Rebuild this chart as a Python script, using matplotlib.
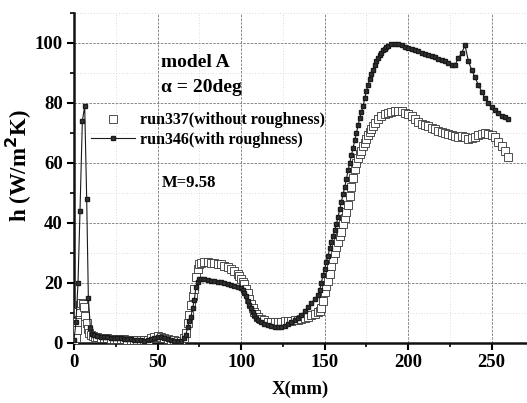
import matplotlib
matplotlib.use("Agg")
import matplotlib.pyplot as plt
from matplotlib.ticker import MultipleLocator

# run346 (with roughness) - filled squares + line
x346 = [0, 1.2, 2.4, 3.6, 5.0, 6.4, 7.6, 8.6, 9.8, 11,
        12, 14, 16, 18, 20, 22, 24, 26, 28, 30, 32, 34, 36, 38, 40,
        42, 44, 46, 48, 50, 52, 54, 56, 58, 60, 62, 64,
        66, 67, 68, 69, 70, 71, 72, 73, 74, 75, 76, 78, 80, 82, 84, 86, 88,
        90, 92, 94, 96, 98, 100, 101, 102, 103, 104, 105, 106, 107, 108, 109,
        110, 112, 114, 116, 118, 120, 122, 124, 126, 128, 130, 132, 134, 136,
        138, 140, 142, 144, 146, 147, 148, 149, 150, 151, 152, 153, 154, 155,
        156, 157, 158, 159, 160, 161, 162, 163, 164, 165, 166, 167, 168, 169,
        170, 171, 172, 173, 174, 175, 176, 177, 178, 179, 180, 181, 182, 183,
        184, 185, 186, 187, 188, 190, 192, 194, 196, 198, 200, 202, 204, 206,
        208, 210, 212, 214, 216, 218, 220, 222, 224, 226, 228, 230, 232, 234,
        236, 238, 240, 242, 244, 246, 248, 250, 252, 254, 256, 258, 260]
h346 = [1, 7, 20, 44, 74, 79, 48, 15, 5, 3,
        2.6, 2.3, 2.1, 2.0, 1.9, 1.8, 1.7, 1.6, 1.5, 1.4, 1.3, 1.2, 1.1, 1.0, 0.9,
        0.8, 1.0, 1.4, 1.8, 2.0, 1.9, 1.6, 1.3, 1.0, 0.8, 0.6, 0.7,
        1.5, 2.8, 5.3, 7.2, 8.8, 11.5, 14.3, 18.8, 20.2, 21.3, 21.4, 21.2, 21.0, 20.8, 20.6, 20.4, 20.2,
        20.0, 19.7, 19.4, 19.1, 18.8, 18.4, 17.6, 16.8, 15.5, 14.0, 12.8, 11.5, 10.2, 9.3, 8.4,
        7.8, 6.9, 6.3, 5.9, 5.6, 5.4, 5.3, 5.4, 5.8, 6.4, 7.0, 7.7, 8.4, 9.3,
        10.6, 12.0, 13.3, 14.6, 16.0, 17.5, 20.0, 22.5, 24.5, 27.0, 29.0, 31.5, 33.5, 35.5,
        37.5, 39.5, 42.0, 44.5, 47.0, 49.5, 52.0, 54.5, 57.5, 60.0, 62.5, 65.0, 67.5, 70.0,
        72.5, 75.0, 77.0, 79.0, 81.5, 84.0, 86.0, 88.0, 89.5, 91.0, 92.5, 94.0, 95.0, 96.0,
        96.8, 97.5, 98.0, 98.5, 99.0, 99.6, 99.8, 99.6, 99.2, 98.8, 98.4, 98.0, 97.6, 97.2,
        96.8, 96.4, 96.0, 95.6, 95.2, 94.7, 94.3, 93.9, 93.4, 92.8, 92.6, 95.0, 96.6, 99.3,
        94.0, 91.0, 88.5, 86.0, 83.8, 81.5, 80.0, 78.8, 77.5, 76.6, 75.8, 75.2, 74.6]

# run337 (without roughness) - hollow squares
x337 = [0, 1.0, 1.6, 2.0, 2.6, 3.4, 4.4, 5.4, 6.2, 6.8, 7.6, 8.4, 9.2, 10.2, 11.2,
        12.4, 14, 16, 18, 20, 22, 24, 26, 28, 30, 32, 34, 36, 38, 40,
        42, 44, 46, 48, 50, 52, 54, 56, 58, 60, 62, 64,
        66, 67, 68, 69, 70, 71, 72, 73, 74, 75, 76, 78, 80, 82, 84, 86, 88,
        90, 92, 94, 96, 98, 99, 100, 101, 102, 103, 104, 105, 106, 107, 108, 109,
        110, 112, 114, 116, 118, 120, 122, 124, 126, 128, 130, 132, 134, 136,
        138, 140, 142, 144, 146, 147, 148, 149, 150, 151, 152, 153, 154, 155,
        156, 157, 158, 159, 160, 161, 162, 163, 164, 165, 166, 167, 168, 169,
        170, 171, 172, 173, 174, 175, 176, 177, 178, 179, 180, 182, 184, 186,
        188, 190, 192, 194, 196, 198, 200, 202, 204, 206, 208, 210, 212, 214,
        216, 218, 220, 222, 224, 226, 228, 230, 232, 234, 236, 238, 240, 242,
        244, 246, 248, 250, 252, 254, 256, 258, 260]
h337 = [0.5, 1.5, 4.3, 7.0, 10.4, 12.5, 13.4, 13.0, 12.0, 9.0, 6.6, 4.5, 3.4, 2.8, 2.4,
        2.1, 1.9, 1.7, 1.6, 1.5, 1.4, 1.3, 1.3, 1.2, 1.2, 1.1, 1.0, 1.0, 0.9, 0.9,
        0.9, 1.1, 1.5, 1.9, 2.2, 2.1, 1.8, 1.4, 1.1, 0.9, 0.8, 0.8,
        1.5, 3.3, 6.5, 9.3, 12.5, 15.5, 18.0, 22.0, 24.5, 26.3, 26.8, 27.0, 26.9, 26.8, 26.6, 26.4, 26.2,
        25.8, 25.3, 24.7, 23.9, 23.0, 22.2, 21.4, 20.3, 19.5, 18.0, 16.5, 14.8, 13.0, 11.6, 10.4, 9.5,
        8.8, 8.0, 7.5, 7.1, 6.9, 6.9, 7.0, 7.1, 7.2, 7.3, 7.4, 7.6, 7.8, 8.1,
        8.4, 8.8, 9.2, 9.6, 10.2, 10.8, 11.8, 14.0, 17.0, 19.0, 20.5, 23.0, 25.5, 28.0,
        30.0, 32.0, 33.5, 35.5, 37.0, 39.5, 41.5, 43.5, 46.0, 49.0, 52.0, 55.0, 58.0, 60.0,
        61.5, 63.0, 64.0, 65.5, 66.8, 68.0, 69.3, 70.3, 71.2, 72.2, 73.2, 74.6, 75.6, 76.3,
        76.8, 77.1, 77.3, 77.3, 77.2, 76.8, 76.3, 75.5, 74.5, 73.6, 73.0, 72.6, 72.2, 71.6,
        71.2, 70.8, 70.4, 70.0, 69.7, 69.3, 69.0, 68.8, 69.0, 68.6, 68.0, 68.2, 68.8, 69.3,
        69.7, 70.0, 69.8, 69.3, 68.5, 67.0, 65.5, 64.0, 62.0]

serif = ["Liberation Serif", "DejaVu Serif"]
plt.rcParams["font.family"] = serif
plt.rcParams["font.weight"] = "bold"

fig = plt.figure(figsize=(5.27, 4.03), dpi=100)
ax = fig.add_axes([0.1404, 0.1489, 0.8577, 0.8189])

ax.plot(x337, h337, linestyle="none", marker="s", markersize=5.4,
        markerfacecolor="white", markeredgecolor="#333333", markeredgewidth=0.6,
        label="run337(without roughness)", zorder=3)
ax.plot(x346, h346, color="#1a1a1a", linewidth=0.8, marker="s", markersize=2.6,
        markerfacecolor="#333333", markeredgecolor="#1a1a1a",
        label="run346(with roughness)", zorder=4)

ax.set_xlim(0, 270.5)
ax.set_ylim(0, 110)
ax.xaxis.set_major_locator(MultipleLocator(50))
ax.xaxis.set_minor_locator(MultipleLocator(25))
ax.yaxis.set_major_locator(MultipleLocator(20))
ax.yaxis.set_minor_locator(MultipleLocator(10))
ax.set_yticks([0, 20, 40, 60, 80, 100])

ax.grid(True, which="major", color="#777777", linewidth=0.6, linestyle=(0, (3, 1.5)))
ax.grid(True, which="minor", color="#bbbbbb", linewidth=0.5, linestyle=(0, (1, 3)))
ax.set_axisbelow(True)

for s in ["top", "right"]:
    ax.spines[s].set_visible(False)
for s in ["left", "bottom"]:
    ax.spines[s].set_linewidth(1.8)
    ax.spines[s].set_color("#111111")

ax.tick_params(which="major", direction="out", length=5, width=1.5, labelsize=13.5, pad=3)
ax.tick_params(which="minor", direction="out", length=3, width=1.2)
for lab in ax.get_xticklabels() + ax.get_yticklabels():
    lab.set_fontweight("bold")

ax.set_xlabel("X(mm)", fontsize=13.5, fontweight="bold", labelpad=7)
fig.text(0.036, 0.588, "h (W/m$^\\mathbf{2}$K)", rotation=90, ha="center", va="center",
         fontsize=16.5, fontweight="bold")

ax.text(0.193, 0.85, "model A", transform=ax.transAxes, fontsize=14, fontweight="bold",
        ha="left", va="center")
ax.text(0.193, 0.775, "\u03b1 = 20deg", transform=ax.transAxes, fontsize=14, fontweight="bold",
        ha="left", va="center")
ax.text(0.195, 0.485, "M=9.58", transform=ax.transAxes, fontsize=12, fontweight="bold",
        ha="left", va="center")

ax.legend(loc="upper left", bbox_to_anchor=(0.019, 0.723), frameon=False,
          borderpad=0, handlelength=2.8, handletextpad=0.3, labelspacing=0.2,
          prop={"family": serif, "weight": "bold", "size": 11.5})

fig.savefig("out.png", dpi=100)
